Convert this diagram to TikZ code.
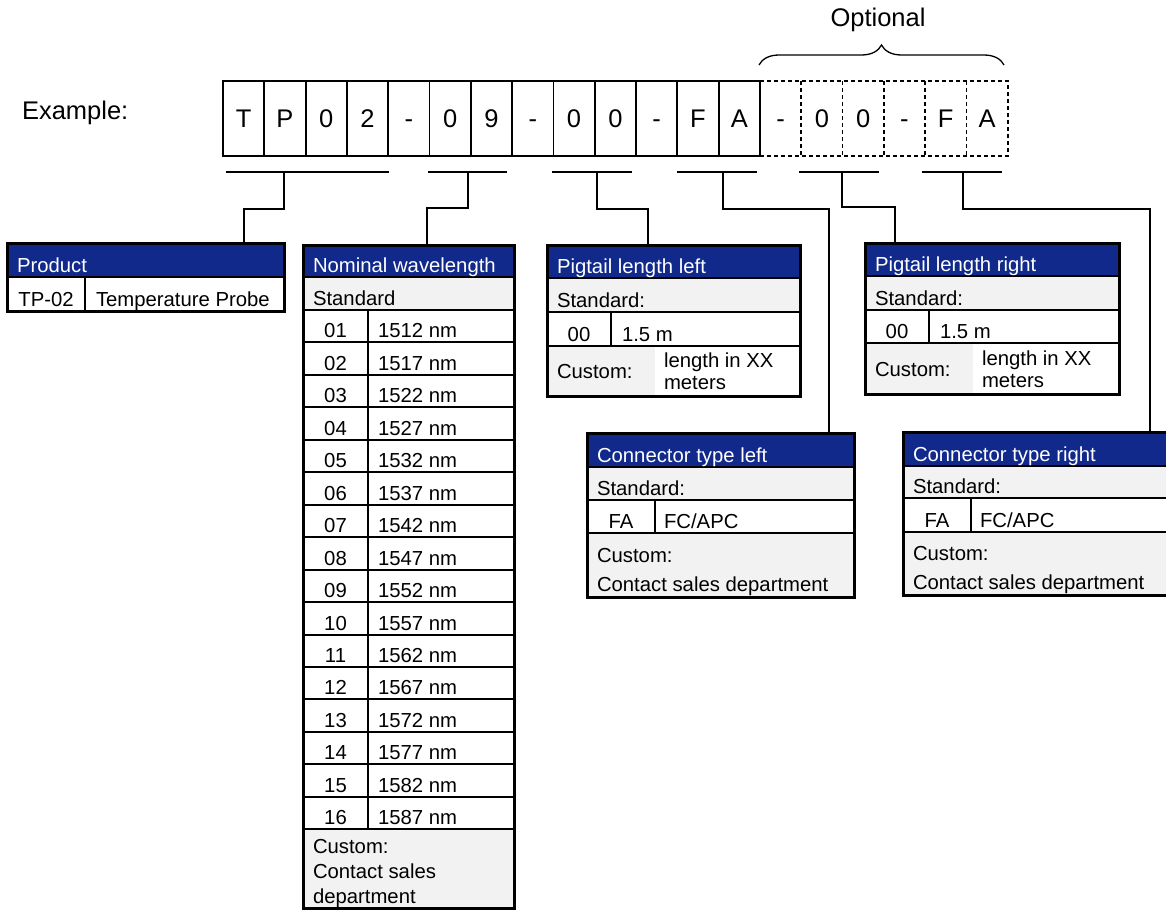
\documentclass[tikz,border=0pt]{standalone}
\usepackage{fontspec}
\setmainfont{Liberation Sans}
\usetikzlibrary{positioning,decorations.pathreplacing}
\definecolor{hdblue}{RGB}{17,41,138}
\definecolor{rowgray}{RGB}{242,242,242}

\begin{document}
\begin{tikzpicture}[x=1pt, y=-1pt,
	every node/.style={inner sep=0pt, outer sep=0pt, font=\fontsize{20.3}{24}\selectfont},
	big/.style={font=\fontsize{25.5}{30}\selectfont},
	cell/.style={big, draw, line width=1.8pt, minimum width=41.3pt, minimum height=75pt, text height=18.3pt, text depth=0pt},
	optcell/.style={big, minimum width=41.3pt, minimum height=75pt, text height=18.3pt, text depth=0pt},
	dashline/.style={line width=1.8pt, dash pattern=on 4pt off 3pt},
	bar/.style={line width=2pt},
	link/.style={line width=1.3pt},
	rowline/.style={line width=2pt},
	tblframe/.style={draw, line width=3pt, anchor=north west},
	txt/.style={anchor=base west},
	hdtxt/.style={anchor=base west, text=white},
	num/.style={anchor=base}]
	\path[use as bounding box] (0,0) rectangle (1166,910);
	\clip (0,0) rectangle (1166,910);

	% order code
	\node[big, anchor=base west] (ex) at (22,119) {Example:};
	\foreach \ch [count=\i from 0] in {T,P,0,2,-,0,9,-,0,0,-,F,A}
		\node[cell] (c\i) at ({243.65+41.3*\i},118.5) {\ch};
	\foreach \ch [count=\i from 13] in {-,0,0,-,F,A}
		\node[optcell] (c\i) at ({243.65+41.3*\i},118.5) {\ch};
	\draw[dashline] (c13.north west) -- (c18.north east) -- (c18.south east) -- (c13.south west);
	\foreach \i in {14,...,18}
		\draw[dashline] (c\i.north west) -- (c\i.south west);
	\node[big, anchor=base] (opt) at (878,26) {Optional};
	\draw[link, decorate, decoration={brace, amplitude=20pt}] (759,65) -- (1004,65);

	% bars under the groups
	\draw[bar] (226,172) -- (389,172);
	\draw[bar] (428,172) -- (507,172);
	\draw[bar] (552,172) -- (632,172);
	\draw[bar] (677,172) -- (757,172);
	\draw[bar] (799,172) -- (879,172);
	\draw[bar] (922,172) -- (1002,172);
	\coordinate (k1) at (284,172);
	\coordinate (k2) at (468,172);
	\coordinate (k3) at (597,172);
	\coordinate (k4) at (723,172);
	\coordinate (k5) at (842,172);
	\coordinate (k6) at (963,172);

	% product
	\fill[hdblue] (7,243) rectangle (284,277);
	\draw[rowline] (7,277) -- (284,277) (85,277) -- (85,311);
	\node[hdtxt] (prodhd) at (17,272.5) {Product};
	\node[num] (prodcode) at (46,306.5) {TP-02};
	\node[txt] (prodname) at (96,306.5) {Temperature Probe};
	\node[tblframe, minimum width=277pt, minimum height=68pt] (prod) at (7,243) {};

	% nominal wavelength
	\fill[hdblue] (303,245) rectangle (514,277);
	\fill[rowgray] (303,277) rectangle (514,310);
	\fill[rowgray] (303,829) rectangle (514,908);
	\draw[rowline] (303,277) -- (514,277);
	\node[hdtxt] (wlhd) at (313,272.5) {Nominal wavelength};
	\node[txt] (wlstd) at (313,305.5) {Standard};
	\foreach \c [count=\i] in {01,02,03,04,05,06,07,08,09,10,11,12,13,14,15,16} {
		\pgfmathsetmacro\yb{310+32.45*\i}
		\pgfmathtruncatemacro\wv{1507+5*\i}
		\draw[rowline] (303,\yb-32.45) -- (514,\yb-32.45);
		\node[num] (wc\i) at (335.5,\yb-4.5) {\c};
		\node[txt] (wv\i) at (378,\yb-4.5) {\wv~nm};
	}
	\draw[rowline] (303,829) -- (514,829) (368,310) -- (368,829);
	\node[txt] (wlcus) at (313,853) {Custom:};
	\node[txt] (wlcon) at (313,878) {Contact sales};
	\node[txt] (wldep) at (313,903) {department};
	\node[tblframe, minimum width=211pt, minimum height=663pt] (wl) at (303,245) {};

	% pigtail length left
	\fill[hdblue] (547,245) rectangle (800,278);
	\fill[rowgray] (547,278) rectangle (800,312);
	\fill[rowgray] (547,346) rectangle (655,396);
	\draw[rowline] (547,278) -- (800,278) (547,312) -- (800,312) (547,346) -- (800,346) (611,312) -- (611,346);
	\node[hdtxt] (plhd) at (557,273.5) {Pigtail length left};
	\node[txt] (plstd) at (557,307.5) {Standard:};
	\node[num] (plcode) at (579,341.5) {00};
	\node[txt] (plval) at (622,341.5) {1.5 m};
	\node[txt] (plcus) at (557,378.5) {Custom:};
	\node[txt] (pllen) at (664,367.5) {length in XX};
	\node[txt] (plmet) at (664,389.5) {meters};
	\node[tblframe, minimum width=253pt, minimum height=151pt] (pl) at (547,245) {};

	% pigtail length right
	\fill[hdblue] (865,243) rectangle (1119,276);
	\fill[rowgray] (865,276) rectangle (1119,310);
	\fill[rowgray] (865,343) rectangle (973,394);
	\draw[rowline] (865,276) -- (1119,276) (865,310) -- (1119,310) (865,343) -- (1119,343) (929,310) -- (929,343);
	\node[hdtxt] (prhd) at (875,271.5) {Pigtail length right};
	\node[txt] (prstd) at (875,305.5) {Standard:};
	\node[num] (prcode) at (897,338.5) {00};
	\node[txt] (prval) at (940,338.5) {1.5 m};
	\node[txt] (prcus) at (875,376) {Custom:};
	\node[txt] (prlen) at (982,365) {length in XX};
	\node[txt] (prmet) at (982,387) {meters};
	\node[tblframe, minimum width=254pt, minimum height=151pt] (pr) at (865,243) {};

	% connector type left
	\fill[hdblue] (587,433) rectangle (854,467);
	\fill[rowgray] (587,467) rectangle (854,500);
	\fill[rowgray] (587,533) rectangle (854,597);
	\draw[rowline] (587,467) -- (854,467) (587,500) -- (854,500) (587,533) -- (854,533) (655,500) -- (655,533);
	\node[hdtxt] (clhd) at (597,462.5) {Connector type left};
	\node[txt] (clstd) at (597,495.5) {Standard:};
	\node[num] (clcode) at (621,528.5) {FA};
	\node[txt] (clval) at (664,528.5) {FC/APC};
	\node[txt] (clcus) at (597,562) {Custom:};
	\node[txt] (clcon) at (597,591) {Contact sales department};
	\node[tblframe, minimum width=267pt, minimum height=164pt] (cl) at (587,433) {};

	% connector type right
	\fill[hdblue] (903,432) rectangle (1172,466);
	\fill[rowgray] (903,466) rectangle (1172,498);
	\fill[rowgray] (903,532) rectangle (1172,595);
	\draw[rowline] (903,466) -- (1172,466) (903,498) -- (1172,498) (903,532) -- (1172,532) (971,498) -- (971,532);
	\node[hdtxt] (crhd) at (913,461.5) {Connector type right};
	\node[txt] (crstd) at (913,493.5) {Standard:};
	\node[num] (crcode) at (937,527.5) {FA};
	\node[txt] (crval) at (980,527.5) {FC/APC};
	\node[txt] (crcus) at (913,560.5) {Custom:};
	\node[txt] (crcon) at (913,589.5) {Contact sales department};
	\node[tblframe, minimum width=269pt, minimum height=163pt] (cr) at (903,432) {};

	% connectors
	\draw[link] (k1) -- ++(0,37) -| ([xshift=237pt]prod.north west);
	\draw[link] (k2) -- ++(0,36) -| ([xshift=124pt]wl.north west);
	\draw[link] (k3) -- ++(0,37) -| ([xshift=101pt]pl.north west);
	\draw[link] (k4) -- ++(0,37) -| ([xshift=242pt]cl.north west);
	\draw[link] (k5) -- ++(0,35) -| ([xshift=30pt]pr.north west);
	\draw[link] (k6) -- ++(0,37) -| ([xshift=247pt]cr.north west);
\end{tikzpicture}
\end{document}
